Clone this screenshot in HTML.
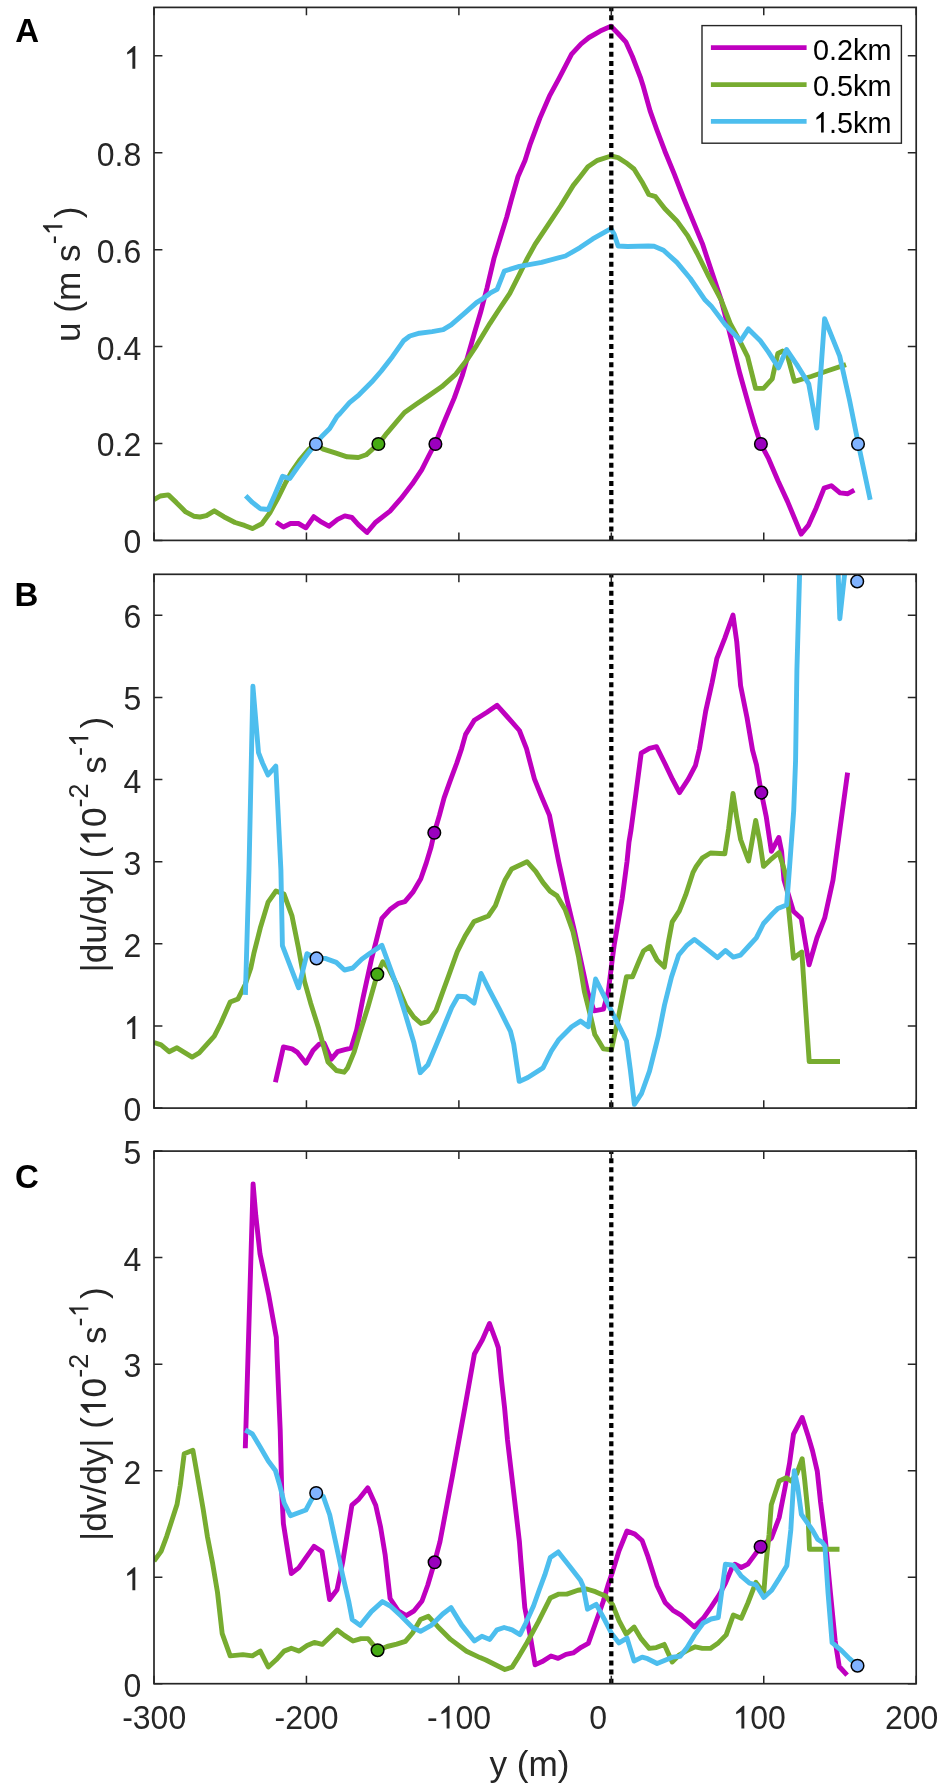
<!DOCTYPE html><html><head><meta charset="utf-8"><style>html,body{margin:0;padding:0;background:#fff;}svg{display:block;}text{filter:grayscale(1);}.h1{fill-opacity:0;}text{font-family:"Liberation Sans",sans-serif;}</style></head><body>
<svg width="945" height="1791" viewBox="0 0 945 1791">
<rect x="0" y="0" width="945" height="1791" fill="#fff"/>
<clipPath id="clipA"><rect x="154.0" y="7.4" width="762.2" height="533.0"/></clipPath>
<g clip-path="url(#clipA)" fill="none" stroke-width="4.9" stroke-linejoin="round" stroke-linecap="butt">
<polyline points="276.2,522.2 283.4,527.0 290.5,523.5 298.4,523.5 305.9,527.8 313.8,516.7 321.7,522.2 328.9,526.2 337.6,519.4 344.8,515.9 351.9,517.5 358.3,524.6 367.0,532.5 375.7,522.2 390.0,511.1 401.1,498.4 412.2,484.1 421.7,469.8 429.7,454.0 435.2,443.7 444.8,420.2 454.3,397.9 462.2,375.7 468.6,353.5 474.9,331.3 481.0,311.0 487.0,288.0 494.0,258.4 500.3,237.8 506.7,217.1 511.4,199.7 518.0,176.5 525.0,160.5 530.3,143.8 539.8,118.4 549.4,96.2 558.9,78.7 571.6,54.1 581.1,43.8 589.0,37.5 600.2,31.1 611.0,26.3 618.1,33.5 626.0,42.2 632.4,56.5 640.3,77.1 643.4,86.8 650.1,110.9 656.8,129.7 664.9,151.2 674.2,173.9 683.6,198.1 693.0,220.9 702.4,243.6 710.4,267.8 721.2,300.1 727.8,325.5 739.7,373.0 747.6,401.1 754.0,423.3 760.6,443.7 768.6,458.7 778.1,481.0 787.6,501.6 801.1,534.1 808.3,525.4 816.2,507.9 824.1,488.1 831.3,485.7 840.0,492.9 847.9,493.7 854.3,490.2" stroke="#BF00BF"/>
<polyline points="154.0,499.7 160.3,496.0 168.3,494.9 176.2,502.4 185.7,511.9 193.7,516.2 200.0,517.0 206.4,515.6 214.3,510.8 223.8,516.7 235.0,522.5 244.5,525.4 252.4,528.6 261.9,523.8 269.9,512.7 277.8,498.4 285.7,482.5 291.5,471.8 299.5,460.3 309.0,449.2 315.4,444.1 323.3,449.2 336.0,453.2 347.1,456.8 358.3,457.5 366.2,454.8 372.5,449.2 378.6,444.1 386.8,433.3 396.3,422.2 404.5,412.5 416.5,404.0 428.9,395.6 441.6,386.8 455.9,374.1 467.0,359.8 476.5,345.6 490.0,323.3 498.7,310.0 509.8,293.3 519.4,274.3 527.3,258.4 535.2,244.1 547.9,225.1 560.6,206.0 573.3,185.4 580.0,177.0 587.9,166.7 597.5,160.3 611.0,156.0 618.1,157.6 626.0,162.7 634.0,169.0 641.9,181.7 648.8,194.5 655.5,196.7 664.9,208.8 676.9,220.9 687.6,235.6 697.0,253.0 707.7,274.5 721.2,300.1 730.2,323.3 739.7,340.8 747.6,356.7 755.6,388.4 763.5,388.4 772.2,378.9 777.8,353.5 782.5,351.1 787.3,355.1 794.4,381.3 811.1,376.5 827.0,371.0 846.0,364.6" stroke="#77AC30"/>
<polyline points="245.7,495.7 252.4,502.4 260.3,508.7 268.3,509.5 274.6,495.2 282.6,476.2 289.7,478.6 297.4,467.5 307.5,454.0 315.4,444.1 321.7,436.5 329.7,428.6 337.0,416.5 340.0,413.5 349.5,402.7 359.0,394.8 371.7,382.1 381.3,371.0 392.4,356.7 403.5,340.8 409.8,336.0 419.4,333.2 432.1,331.6 443.2,329.7 451.1,324.9 463.8,313.8 476.5,302.7 481.3,299.7 490.0,293.2 497.1,289.4 504.3,271.1 519.4,266.3 541.6,262.4 565.4,256.0 580.0,247.6 592.7,238.9 611.0,228.6 614.1,234.1 618.1,246.0 627.6,246.5 648.3,246.0 654.1,246.3 663.5,250.3 676.9,262.4 690.3,278.5 705.1,300.1 711.1,305.9 725.4,324.9 740.5,340.8 748.4,328.9 760.3,340.8 768.3,351.9 778.6,367.8 786.5,349.5 796.8,364.6 808.7,383.7 816.8,428.0 824.6,318.6 839.7,356.1 849.5,400.0 858.3,443.7 870.2,499.7" stroke="#4DBEEE"/>
</g>
<line x1="611.3" y1="6.15" x2="611.3" y2="546.4" stroke="#000" stroke-width="4.3" stroke-dasharray="5.0 4.13" clip-path="url(#clipA)"/>
<circle cx="315.9" cy="444.0" r="6.3" fill="#80B3FF" stroke="#000" stroke-width="1.5"/>
<circle cx="378.4" cy="444.0" r="6.3" fill="#46AB14" stroke="#000" stroke-width="1.5"/>
<circle cx="435.4" cy="444.0" r="6.3" fill="#9A00BE" stroke="#000" stroke-width="1.5"/>
<circle cx="760.9" cy="444.0" r="6.3" fill="#9A00BE" stroke="#000" stroke-width="1.5"/>
<circle cx="858.0" cy="444.0" r="6.3" fill="#80B3FF" stroke="#000" stroke-width="1.5"/>
<rect x="154.0" y="7.4" width="762.2" height="533.0" fill="none" stroke="#262626" stroke-width="1.7"/>
<path d="M154.0 540.40h8.4M916.2 540.40h-8.4M154.0 443.49h8.4M916.2 443.49h-8.4M154.0 346.58h8.4M916.2 346.58h-8.4M154.0 249.67h8.4M916.2 249.67h-8.4M154.0 152.76h8.4M916.2 152.76h-8.4M154.0 55.85h8.4M916.2 55.85h-8.4M154.00 540.4v-7.9M154.00 7.4v7.9M306.44 540.4v-7.9M306.44 7.4v7.9M458.88 540.4v-7.9M458.88 7.4v7.9M611.32 540.4v-7.9M611.32 7.4v7.9M763.76 540.4v-7.9M763.76 7.4v7.9M916.20 540.4v-7.9M916.20 7.4v7.9" stroke="#262626" stroke-width="1.5" fill="none"/>
<text class="t" transform="translate(0,553.40) scale(1,1.04) translate(0,-553.40)" x="141.2" y="553.40" font-size="32" text-anchor="end" fill="#262626">0</text>
<text class="t" transform="translate(0,456.49) scale(1,1.04) translate(0,-456.49)" x="141.2" y="456.49" font-size="32" text-anchor="end" fill="#262626">0.2</text>
<text class="t" transform="translate(0,359.58) scale(1,1.04) translate(0,-359.58)" x="141.2" y="359.58" font-size="32" text-anchor="end" fill="#262626">0.4</text>
<text class="t" transform="translate(0,262.67) scale(1,1.04) translate(0,-262.67)" x="141.2" y="262.67" font-size="32" text-anchor="end" fill="#262626">0.6</text>
<text class="t" transform="translate(0,165.76) scale(1,1.04) translate(0,-165.76)" x="141.2" y="165.76" font-size="32" text-anchor="end" fill="#262626">0.8</text>
<text class="t" transform="translate(0,68.85) scale(1,1.04) translate(0,-68.85)" x="141.2" y="68.85" font-size="32" text-anchor="end" fill="#262626"><tspan class="h1">1</tspan></text>
<clipPath id="clipB"><rect x="154.0" y="574.3" width="762.2" height="533.8"/></clipPath>
<g clip-path="url(#clipB)" fill="none" stroke-width="4.9" stroke-linejoin="round" stroke-linecap="butt">
<polyline points="275.4,1082.2 283.4,1047.0 292.1,1048.9 297.1,1052.1 305.9,1063.2 313.0,1050.5 319.4,1044.1 324.1,1043.3 331.3,1059.2 337.6,1051.7 344.8,1049.7 351.1,1048.1 356.7,1029.8 363.0,998.1 367.8,975.9 371.5,959.0 376.3,940.6 381.9,918.4 390.6,908.9 398.6,903.3 404.9,901.7 412.9,892.2 420.8,878.7 426.3,862.9 431.1,847.0 434.3,832.8 439.4,815.4 444.1,797.9 449.7,782.1 456.8,763.0 461.6,748.7 465.6,734.4 474.3,720.2 487.0,712.2 497.1,705.3 507.5,717.0 519.4,730.5 526.5,748.7 534.4,778.9 540.8,794.8 549.5,815.4 558.7,861.7 566.7,898.3 574.6,931.6 587.6,991.7 594.0,1010.8 603.5,1009.2 608.3,991.7 612.2,960.0 614.3,944.3 622.2,898.3 627.0,861.7 629.0,842.0 631.0,830.0 635.9,793.5 641.2,753.2 649.4,748.3 656.5,746.7 664.4,762.5 672.4,779.2 679.5,792.7 688.3,779.2 695.4,765.7 699.4,749.0 705.7,711.1 712.1,682.5 716.8,658.7 724.8,638.1 733.0,615.1 736.7,641.3 740.6,685.7 747.0,717.5 752.5,750.0 756.5,764.9 761.3,792.6 766.3,817.1 771.4,851.4 778.8,837.5 781.6,851.4 784.0,880.0 793.4,911.3 801.3,918.5 809.1,964.8 816.9,938.0 824.7,917.9 833.0,880.0 847.6,772.7" stroke="#BF00BF"/>
<polyline points="154.0,1042.5 161.1,1044.9 169.1,1051.7 177.0,1047.8 192.1,1057.1 199.2,1052.9 214.3,1036.2 220.7,1023.5 230.2,1002.1 238.0,998.9 245.2,984.5 250.8,967.9 253.8,953.7 260.2,928.3 268.1,902.1 276.0,891.0 284.0,894.1 291.9,915.6 298.3,947.3 304.5,981.4 310.6,1002.9 318.6,1028.3 328.0,1062.0 336.4,1070.5 344.1,1072.2 347.5,1068.0 354.2,1051.9 359.8,1033.0 367.8,1007.6 374.1,985.4 377.3,974.3 382.8,961.8 388.4,967.9 397.9,987.0 405.9,1006.0 413.8,1017.1 421.0,1023.5 428.0,1021.5 435.9,1010.8 442.2,993.3 448.6,975.9 457.3,951.7 465.2,935.9 474.0,921.6 488.3,916.0 495.4,905.7 501.7,888.3 504.9,880.3 511.6,869.0 527.0,861.7 535.7,871.3 542.9,882.4 550.0,891.1 557.1,895.9 565.1,909.4 573.0,931.6 578.6,957.0 584.4,991.7 590.8,1017.1 594.8,1034.6 603.5,1048.9 611.4,1049.7 617.8,1020.3 622.5,996.5 626.5,976.7 632.5,976.7 639.5,960.0 643.5,951.0 650.0,946.5 657.1,960.0 664.3,967.1 668.3,942.5 672.2,921.9 679.4,910.8 685.7,894.9 692.9,872.7 696.2,866.5 702.5,857.8 710.5,853.0 724.8,853.8 728.7,828.4 733.0,793.5 736.7,817.3 740.6,839.5 748.6,861.0 755.7,820.5 759.7,841.1 763.5,866.4 770.0,860.2 779.0,852.7 784.1,869.2 786.5,879.0 788.4,906.8 793.5,958.2 801.8,952.0 809.2,1061.5 840.0,1061.5" stroke="#77AC30"/>
<polyline points="245.4,994.9 249.0,870.0 252.9,686.2 258.5,752.7 262.5,763.0 268.0,775.0 275.8,766.1 280.9,870.0 282.4,945.7 298.6,987.8 307.0,953.7 316.5,958.4 325.2,958.4 336.3,962.4 344.5,970.0 352.8,968.0 361.7,959.2 370.0,953.3 381.9,945.4 394.8,980.6 404.3,1010.8 413.8,1042.5 420.2,1072.7 427.9,1064.8 435.9,1045.7 443.8,1026.7 451.7,1007.6 458.1,996.2 466.0,996.8 474.0,1003.2 481.1,973.5 489.0,989.4 499.4,1009.2 510.5,1031.4 513.7,1044.1 519.2,1081.4 527.9,1077.5 543.0,1067.9 551.4,1051.0 559.0,1039.4 571.7,1026.7 580.5,1021.1 588.4,1026.7 595.6,979.0 603.5,994.9 613.0,1014.0 621.0,1029.8 626.5,1041.0 630.5,1071.1 634.4,1104.4 641.6,1093.3 649.5,1071.1 658.3,1036.2 664.5,1005.0 671.5,977.0 678.7,955.0 686.5,945.7 694.4,939.4 705.6,948.1 717.5,957.6 725.4,950.5 733.3,957.1 740.5,955.2 748.4,946.5 756.3,937.8 763.5,923.5 772.2,914.0 777.8,908.5 786.6,905.0 788.6,880.0 793.7,810.8 795.6,760.0 796.9,670.0 799.6,574.2 801.0,520.0 836.5,520.0 838.2,574.2 839.8,618.7 844.6,574.2 846.0,520.0" stroke="#4DBEEE"/>
</g>
<line x1="611.3" y1="572.6" x2="611.3" y2="1114.1" stroke="#000" stroke-width="4.3" stroke-dasharray="5.0 4.13" clip-path="url(#clipB)"/>
<circle cx="316.5" cy="958.4" r="6.3" fill="#80B3FF" stroke="#000" stroke-width="1.5"/>
<circle cx="377.3" cy="974.3" r="6.3" fill="#46AB14" stroke="#000" stroke-width="1.5"/>
<circle cx="434.3" cy="832.8" r="6.3" fill="#9A00BE" stroke="#000" stroke-width="1.5"/>
<circle cx="761.3" cy="792.6" r="6.3" fill="#9A00BE" stroke="#000" stroke-width="1.5"/>
<circle cx="857.2" cy="581.4" r="6.3" fill="#80B3FF" stroke="#000" stroke-width="1.5"/>
<rect x="154.0" y="574.3" width="762.2" height="533.8" fill="none" stroke="#262626" stroke-width="1.7"/>
<path d="M154.0 1108.10h8.4M916.2 1108.10h-8.4M154.0 1025.98h8.4M916.2 1025.98h-8.4M154.0 943.85h8.4M916.2 943.85h-8.4M154.0 861.73h8.4M916.2 861.73h-8.4M154.0 779.61h8.4M916.2 779.61h-8.4M154.0 697.48h8.4M916.2 697.48h-8.4M154.0 615.36h8.4M916.2 615.36h-8.4M154.00 1108.1v-7.9M154.00 574.3v7.9M306.44 1108.1v-7.9M306.44 574.3v7.9M458.88 1108.1v-7.9M458.88 574.3v7.9M611.32 1108.1v-7.9M611.32 574.3v7.9M763.76 1108.1v-7.9M763.76 574.3v7.9M916.20 1108.1v-7.9M916.20 574.3v7.9" stroke="#262626" stroke-width="1.5" fill="none"/>
<text class="t" transform="translate(0,1121.10) scale(1,1.04) translate(0,-1121.10)" x="141.2" y="1121.10" font-size="32" text-anchor="end" fill="#262626">0</text>
<text class="t" transform="translate(0,1038.98) scale(1,1.04) translate(0,-1038.98)" x="141.2" y="1038.98" font-size="32" text-anchor="end" fill="#262626"><tspan class="h1">1</tspan></text>
<text class="t" transform="translate(0,956.85) scale(1,1.04) translate(0,-956.85)" x="141.2" y="956.85" font-size="32" text-anchor="end" fill="#262626">2</text>
<text class="t" transform="translate(0,874.73) scale(1,1.04) translate(0,-874.73)" x="141.2" y="874.73" font-size="32" text-anchor="end" fill="#262626">3</text>
<text class="t" transform="translate(0,792.61) scale(1,1.04) translate(0,-792.61)" x="141.2" y="792.61" font-size="32" text-anchor="end" fill="#262626">4</text>
<text class="t" transform="translate(0,710.48) scale(1,1.04) translate(0,-710.48)" x="141.2" y="710.48" font-size="32" text-anchor="end" fill="#262626">5</text>
<text class="t" transform="translate(0,628.36) scale(1,1.04) translate(0,-628.36)" x="141.2" y="628.36" font-size="32" text-anchor="end" fill="#262626">6</text>
<clipPath id="clipC"><rect x="154.0" y="1151.1" width="762.2" height="532.6000000000001"/></clipPath>
<g clip-path="url(#clipC)" fill="none" stroke-width="4.9" stroke-linejoin="round" stroke-linecap="butt">
<polyline points="245.3,1448.3 253.1,1183.9 255.8,1215.6 260.0,1253.7 268.5,1293.9 276.3,1337.3 280.2,1430.0 281.8,1493.5 283.4,1523.7 291.3,1573.5 298.7,1567.9 314.0,1546.4 322.0,1551.5 329.6,1599.6 337.0,1589.8 342.6,1562.5 351.9,1505.2 358.3,1499.7 367.8,1487.8 375.7,1505.2 380.5,1526.7 385.2,1555.2 390.1,1598.5 398.3,1610.8 406.2,1615.6 414.1,1610.8 422.0,1601.0 427.8,1585.0 434.6,1562.0 440.0,1541.6 452.4,1476.0 464.8,1408.0 474.4,1354.0 482.4,1339.7 489.5,1323.5 496.7,1342.9 498.3,1347.6 501.4,1379.4 504.6,1407.9 507.5,1440.0 514.6,1500.3 519.4,1541.6 520.8,1560.0 524.8,1607.6 530.3,1636.2 535.1,1664.8 542.2,1661.6 551.0,1656.0 558.1,1658.4 566.0,1654.4 573.2,1652.9 581.1,1647.3 588.3,1643.3 595.4,1623.5 603.3,1601.3 608.5,1583.5 612.7,1571.4 619.0,1550.8 627.0,1531.0 634.9,1534.1 642.1,1540.5 647.6,1555.6 657.1,1585.7 665.1,1602.4 673.0,1610.3 681.0,1615.1 694.4,1627.0 703.2,1618.3 711.1,1607.1 719.0,1595.2 725.4,1583.3 731.7,1568.3 734.9,1564.3 741.3,1567.5 747.9,1564.1 754.3,1555.4 760.6,1546.7 771.5,1538.0 779.2,1517.5 784.8,1488.9 789.5,1463.5 793.5,1434.1 802.2,1417.5 807.8,1434.9 812.5,1450.8 817.3,1471.4 820.5,1501.6 825.2,1538.1 830.5,1593.5 835.2,1641.1 839.2,1666.5 847.1,1675.2" stroke="#BF00BF"/>
<polyline points="154.0,1561.0 161.1,1551.4 166.7,1536.3 177.0,1504.6 180.2,1485.6 184.2,1453.8 192.9,1450.3 197.7,1477.6 203.2,1509.4 207.5,1537.0 212.7,1563.8 217.5,1592.4 222.2,1633.7 230.2,1655.9 242.9,1654.6 252.4,1655.9 260.3,1651.1 268.3,1667.0 276.2,1659.8 284.1,1651.1 291.3,1648.3 299.2,1651.1 307.1,1645.6 314.3,1642.4 322.2,1644.4 337.2,1630.0 344.3,1635.4 353.0,1641.0 361.0,1638.6 368.1,1638.6 377.6,1650.2 387.1,1646.5 396.7,1644.1 405.4,1641.3 412.5,1633.0 420.5,1619.5 428.4,1616.3 437.9,1626.7 450.6,1639.4 466.5,1651.3 480.0,1657.6 485.9,1660.0 504.9,1669.5 512.1,1667.1 517.6,1658.4 527.1,1642.5 538.3,1621.9 550.2,1598.1 558.9,1594.1 566.8,1594.1 577.9,1590.2 586.7,1589.0 595.4,1591.7 600.0,1593.7 605.6,1596.0 612.7,1604.8 619.0,1620.6 626.2,1634.1 634.1,1627.0 641.3,1638.9 649.2,1648.4 656.3,1647.6 664.3,1644.4 672.2,1661.9 679.4,1654.8 686.5,1650.8 695.2,1646.8 702.4,1648.4 710.3,1648.4 718.3,1642.9 726.2,1634.9 733.3,1615.1 741.3,1618.3 747.9,1603.0 755.9,1582.4 763.8,1592.7 766.2,1561.7 769.0,1535.0 771.3,1504.8 779.2,1481.0 786.3,1477.8 791.1,1481.0 796.7,1473.8 802.2,1458.7 804.6,1479.4 807.8,1511.1 809.5,1549.3 839.5,1549.3" stroke="#77AC30"/>
<polyline points="245.3,1430.0 252.4,1434.0 259.6,1445.9 268.3,1461.0 275.4,1470.5 279.4,1484.0 284.2,1503.0 290.5,1515.7 305.9,1510.0 311.4,1499.7 316.2,1493.0 323.3,1496.5 329.7,1514.8 336.0,1544.1 342.4,1574.3 348.7,1601.3 352.2,1619.5 360.2,1625.4 371.3,1611.6 382.4,1601.6 390.3,1606.0 401.4,1616.3 412.5,1627.5 420.5,1631.4 431.6,1625.1 442.7,1614.0 451.0,1607.6 461.7,1625.1 474.4,1641.0 481.9,1636.2 489.8,1639.4 497.0,1629.8 504.1,1627.5 512.1,1629.8 520.0,1634.6 525.6,1623.5 533.5,1606.0 539.2,1590.0 544.8,1574.9 550.3,1557.5 558.3,1551.9 570.2,1567.0 580.5,1580.2 583.0,1586.0 587.5,1609.2 596.2,1604.4 604.9,1620.3 611.6,1633.5 619.0,1642.9 627.0,1638.1 634.1,1661.1 642.1,1657.1 647.6,1658.7 657.1,1663.5 665.1,1660.3 673.0,1657.1 680.2,1656.3 686.5,1648.4 695.2,1634.1 703.2,1623.0 711.1,1619.0 718.3,1617.5 725.4,1564.3 733.3,1565.1 741.3,1576.2 749.5,1583.2 755.9,1584.8 763.8,1597.5 771.7,1590.3 779.7,1577.6 786.8,1565.7 790.8,1530.0 794.3,1470.6 797.5,1485.7 801.4,1514.3 812.5,1530.2 817.8,1539.5 822.1,1542.1 824.9,1545.9 828.1,1593.5 832.1,1642.7 841.6,1650.6 849.5,1658.6 857.5,1665.7" stroke="#4DBEEE"/>
</g>
<line x1="611.3" y1="1149.1" x2="611.3" y2="1689.7" stroke="#000" stroke-width="4.3" stroke-dasharray="5.0 4.13" clip-path="url(#clipC)"/>
<circle cx="316.2" cy="1493" r="6.3" fill="#80B3FF" stroke="#000" stroke-width="1.5"/>
<circle cx="377.6" cy="1650.2" r="6.3" fill="#46AB14" stroke="#000" stroke-width="1.5"/>
<circle cx="434.6" cy="1562.3" r="6.3" fill="#9A00BE" stroke="#000" stroke-width="1.5"/>
<circle cx="760.6" cy="1546.7" r="6.3" fill="#9A00BE" stroke="#000" stroke-width="1.5"/>
<circle cx="857.5" cy="1665.7" r="6.3" fill="#80B3FF" stroke="#000" stroke-width="1.5"/>
<rect x="154.0" y="1151.1" width="762.2" height="532.6000000000001" fill="none" stroke="#262626" stroke-width="1.7"/>
<path d="M154.0 1683.70h8.4M916.2 1683.70h-8.4M154.0 1577.18h8.4M916.2 1577.18h-8.4M154.0 1470.66h8.4M916.2 1470.66h-8.4M154.0 1364.14h8.4M916.2 1364.14h-8.4M154.0 1257.62h8.4M916.2 1257.62h-8.4M154.0 1151.10h8.4M916.2 1151.10h-8.4M154.00 1683.7v-7.9M154.00 1151.1v7.9M306.44 1683.7v-7.9M306.44 1151.1v7.9M458.88 1683.7v-7.9M458.88 1151.1v7.9M611.32 1683.7v-7.9M611.32 1151.1v7.9M763.76 1683.7v-7.9M763.76 1151.1v7.9M916.20 1683.7v-7.9M916.20 1151.1v7.9" stroke="#262626" stroke-width="1.5" fill="none"/>
<text class="t" transform="translate(0,1696.70) scale(1,1.04) translate(0,-1696.70)" x="141.2" y="1696.70" font-size="32" text-anchor="end" fill="#262626">0</text>
<text class="t" transform="translate(0,1590.18) scale(1,1.04) translate(0,-1590.18)" x="141.2" y="1590.18" font-size="32" text-anchor="end" fill="#262626"><tspan class="h1">1</tspan></text>
<text class="t" transform="translate(0,1483.66) scale(1,1.04) translate(0,-1483.66)" x="141.2" y="1483.66" font-size="32" text-anchor="end" fill="#262626">2</text>
<text class="t" transform="translate(0,1377.14) scale(1,1.04) translate(0,-1377.14)" x="141.2" y="1377.14" font-size="32" text-anchor="end" fill="#262626">3</text>
<text class="t" transform="translate(0,1270.62) scale(1,1.04) translate(0,-1270.62)" x="141.2" y="1270.62" font-size="32" text-anchor="end" fill="#262626">4</text>
<text class="t" transform="translate(0,1164.10) scale(1,1.04) translate(0,-1164.10)" x="141.2" y="1164.10" font-size="32" text-anchor="end" fill="#262626">5</text>
<text x="15.3" y="42.3" font-size="33" font-weight="bold" fill="#000">A</text>
<text x="14.4" y="606.3" font-size="33" font-weight="bold" fill="#000">B</text>
<text x="15.0" y="1188.4" font-size="33" font-weight="bold" fill="#000">C</text>
<text class="t" transform="translate(0,1728.60) scale(1,1.04) translate(0,-1728.60)" x="154.2" y="1728.6" font-size="32" text-anchor="middle" fill="#262626">-300</text>
<text class="t" transform="translate(0,1728.60) scale(1,1.04) translate(0,-1728.60)" x="306.6" y="1728.6" font-size="32" text-anchor="middle" fill="#262626">-200</text>
<text class="t" transform="translate(0,1728.60) scale(1,1.04) translate(0,-1728.60)" x="459.0" y="1728.6" font-size="32" text-anchor="middle" fill="#262626">-<tspan class="h1">1</tspan>00</text>
<text class="t" transform="translate(0,1728.60) scale(1,1.04) translate(0,-1728.60)" x="598.2" y="1728.6" font-size="32" text-anchor="middle" fill="#262626">0</text>
<text class="t" transform="translate(0,1728.60) scale(1,1.04) translate(0,-1728.60)" x="759.1" y="1728.6" font-size="32" text-anchor="middle" fill="#262626"><tspan class="h1">1</tspan>00</text>
<text class="t" transform="translate(0,1728.60) scale(1,1.04) translate(0,-1728.60)" x="911.6" y="1728.6" font-size="32" text-anchor="middle" fill="#262626">200</text>
<text x="529.5" y="1776.4" font-size="35.2" fill="#262626" text-anchor="middle">y (m)</text>
<text class="t" transform="translate(79.8,342.1) rotate(-90)" font-size="35.2" fill="#262626">u (m s<tspan font-size="27" dy="-17.5">-<tspan class="h1">1</tspan></tspan><tspan dy="17.5" dx="2">)</tspan></text>
<text class="t" transform="translate(105.8,972.5) rotate(-90)" font-size="35.2" fill="#262626">|du/dy| (<tspan class="h1">1</tspan>0<tspan font-size="27" dy="-17.5">-2</tspan><tspan dy="17.5"> s</tspan><tspan font-size="27" dy="-17.5">-<tspan class="h1">1</tspan></tspan><tspan dy="17.5" dx="3.5">)</tspan></text>
<text class="t" transform="translate(105.8,1540.9) rotate(-90)" font-size="35.2" fill="#262626">|dv/dy| (<tspan class="h1">1</tspan>0<tspan font-size="27" dy="-17.5">-2</tspan><tspan dy="17.5"> s</tspan><tspan font-size="27" dy="-17.5">-<tspan class="h1">1</tspan></tspan><tspan dy="17.5" dx="3.5">)</tspan></text>
<rect x="702" y="25.6" width="199.4" height="117.6" fill="#fff" stroke="#262626" stroke-width="1.4"/>
<line x1="710.9" y1="47.6" x2="806.6" y2="47.6" stroke="#BF00BF" stroke-width="4.8"/>
<text class="t" x="813" y="59.5" font-size="28.8" fill="#000">0.2km</text>
<line x1="710.9" y1="84.7" x2="806.6" y2="84.7" stroke="#77AC30" stroke-width="4.8"/>
<text class="t" x="813" y="96.3" font-size="28.8" fill="#000">0.5km</text>
<line x1="710.9" y1="121.4" x2="806.6" y2="121.4" stroke="#4DBEEE" stroke-width="4.8"/>
<text class="t" x="813" y="132.5" font-size="28.8" fill="#000"><tspan class="h1">1</tspan>.5km</text>
<path transform="translate(123.40,68.85) scale(32.00,-32.00)" d="M0.372,0L0.281,0L0.281,0.53L0.118,0.445L0.118,0.522L0.33,0.716L0.372,0.716Z" fill="#262626"/>
<path transform="translate(123.40,1038.98) scale(32.00,-32.00)" d="M0.372,0L0.281,0L0.281,0.53L0.118,0.445L0.118,0.522L0.33,0.716L0.372,0.716Z" fill="#262626"/>
<path transform="translate(123.40,1590.18) scale(32.00,-32.00)" d="M0.372,0L0.281,0L0.281,0.53L0.118,0.445L0.118,0.522L0.33,0.716L0.372,0.716Z" fill="#262626"/>
<path transform="translate(437.64,1728.60) scale(32.00,-32.00)" d="M0.372,0L0.281,0L0.281,0.53L0.118,0.445L0.118,0.522L0.33,0.716L0.372,0.716Z" fill="#262626"/>
<path transform="translate(732.41,1728.60) scale(32.00,-32.00)" d="M0.372,0L0.281,0L0.281,0.53L0.118,0.445L0.118,0.522L0.33,0.716L0.372,0.716Z" fill="#262626"/>
<path transform="translate(79.8,342.1) rotate(-90) translate(106.75,-17.50) scale(27.00,-27.00)" d="M0.372,0L0.281,0L0.281,0.53L0.118,0.445L0.118,0.522L0.33,0.716L0.372,0.716Z" fill="#262626"/>
<path transform="translate(105.8,972.5) rotate(-90) translate(125.86,0.00) scale(35.20,-35.20)" d="M0.372,0L0.281,0L0.281,0.53L0.118,0.445L0.118,0.522L0.33,0.716L0.372,0.716Z" fill="#262626"/>
<path transform="translate(105.8,972.5) rotate(-90) translate(225.41,-17.50) scale(27.00,-27.00)" d="M0.372,0L0.281,0L0.281,0.53L0.118,0.445L0.118,0.522L0.33,0.716L0.372,0.716Z" fill="#262626"/>
<path transform="translate(105.8,1540.9) rotate(-90) translate(123.89,0.00) scale(35.20,-35.20)" d="M0.372,0L0.281,0L0.281,0.53L0.118,0.445L0.118,0.522L0.33,0.716L0.372,0.716Z" fill="#262626"/>
<path transform="translate(105.8,1540.9) rotate(-90) translate(223.44,-17.50) scale(27.00,-27.00)" d="M0.372,0L0.281,0L0.281,0.53L0.118,0.445L0.118,0.522L0.33,0.716L0.372,0.716Z" fill="#262626"/>
<path transform="translate(813.00,132.50) scale(28.80,-28.80)" d="M0.372,0L0.281,0L0.281,0.53L0.118,0.445L0.118,0.522L0.33,0.716L0.372,0.716Z" fill="#000"/>
</svg></body></html>
